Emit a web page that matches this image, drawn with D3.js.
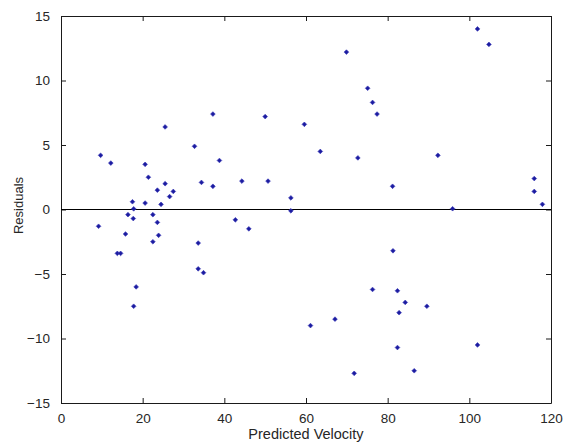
<!DOCTYPE html>
<html>
<head>
<meta charset="utf-8">
<script src="https://cdn.jsdelivr.net/npm/d3@7"></script>
<style>
  body { margin: 0; background: #fff; }
  text { font-family: "Liberation Sans", Arial, sans-serif; fill: #262626; }
</style>
</head>
<body>
<div id="container"></div>
<script>
/** CONSTANTS AND GLOBALS */
const width = 563,
  height = 445,
  margin = { top: 16, bottom: 42, left: 61, right: 12 };

// predicted velocity (x) and residual (y) for each observation
const predicted = [
  9.7, 12.2, 20.6, 21.4, 25.5, 23.6, 27.5, 26.6, 17.5, 20.6, 24.5, 17.8,
  16.4, 17.7, 22.5, 23.6, 9.2, 15.8, 23.9, 22.5, 13.8, 14.6, 18.4, 17.8,
  37.2, 50.0, 59.6, 32.7, 63.5, 38.8, 34.4, 37.2, 44.3, 50.7, 56.3, 56.3,
  42.7, 46.0, 33.6, 33.6, 34.9, 69.9, 75.1, 76.3, 77.4, 72.7, 92.3, 81.2,
  95.9, 102.0, 104.8, 115.9, 115.9, 117.9, 81.3, 76.3, 82.4, 84.3, 89.6,
  82.8, 67.1, 61.1, 82.4, 71.8, 86.5, 102.0, 25.5
];
const residuals = [
  4.2, 3.6, 3.5, 2.5, 2.0, 1.5, 1.4, 1.0, 0.6, 0.5, 0.4, 0.05,
  -0.4, -0.7, -0.4, -1.0, -1.3, -1.9, -2.0, -2.5, -3.4, -3.4, -6.0, -7.5,
  7.4, 7.2, 6.6, 4.9, 4.5, 3.8, 2.1, 1.8, 2.2, 2.2, 0.9, -0.1,
  -0.8, -1.5, -2.6, -4.6, -4.9, 12.2, 9.4, 8.3, 7.4, 4.0, 4.2, 1.8,
  0.06, 14.0, 12.8, 2.4, 1.4, 0.4, -3.2, -6.2, -6.3, -7.2, -7.5,
  -8.0, -8.5, -9.0, -10.7, -12.7, -12.5, -10.5, 6.4
];
const xTicks = [0, 20, 40, 60, 80, 100, 120];
const yTicks = [-15, -10, -5, 0, 5, 10, 15];
const xLabel = "Predicted Velocity";
const yLabel = "Residuals";

let svg;

/** INITIALIZING FUNCTION */
function init() {
  const data = predicted.map((v, i) => ({ x: v, y: residuals[i] }));

  const xScale = d3.scaleLinear()
    .domain([0, 120])
    .range([margin.left, width - margin.right]);

  const yScale = d3.scaleLinear()
    .domain([-15, 15])
    .range([height - margin.bottom, margin.top]);

  svg = d3.select("#container")
    .append("svg")
    .attr("width", width)
    .attr("height", height);

  svg.append("rect")
    .attr("width", width)
    .attr("height", height)
    .attr("fill", "#fff");

  const tickLen = 5;

  // axes, ticks pointing inward on all four sides
  const xBottom = svg.append("g")
    .attr("transform", `translate(0, ${height - margin.bottom})`)
    .call(d3.axisBottom(xScale).tickValues(xTicks).tickSizeInner(-tickLen).tickSizeOuter(0).tickPadding(10));

  const xTop = svg.append("g")
    .attr("transform", `translate(0, ${margin.top})`)
    .call(d3.axisTop(xScale).tickValues(xTicks).tickSizeInner(-tickLen).tickSizeOuter(0).tickFormat(""));

  const yLeft = svg.append("g")
    .attr("transform", `translate(${margin.left}, 0)`)
    .call(d3.axisLeft(yScale).tickValues(yTicks).tickSizeInner(-tickLen).tickSizeOuter(0).tickPadding(11));

  const yRight = svg.append("g")
    .attr("transform", `translate(${width - margin.right}, 0)`)
    .call(d3.axisRight(yScale).tickValues(yTicks).tickSizeInner(-tickLen).tickSizeOuter(0).tickFormat(""));

  [xBottom, xTop, yLeft, yRight].forEach(g => {
    g.selectAll("path, line").attr("stroke", "#1a1a1a");
    g.selectAll("text")
      .style("font-size", "13.5px")
      .style("font-family", "\"Liberation Sans\", Arial, sans-serif")
      .attr("fill", "#262626");
  });

  // zero line
  svg.append("line")
    .attr("x1", xScale(0))
    .attr("x2", xScale(120))
    .attr("y1", yScale(0))
    .attr("y2", yScale(0))
    .attr("stroke", "#000")
    .attr("stroke-width", 1.2);

  // points: small square turned 45 degrees
  const marker = d3.symbol().type(d3.symbolSquare).size(11);
  svg.selectAll(".pt")
    .data(data)
    .join("path")
    .attr("class", "pt")
    .attr("d", marker)
    .attr("transform", d => `translate(${xScale(d.x)}, ${yScale(d.y)}) rotate(45)`)
    .attr("fill", "#1c1ca0")
    .attr("stroke", "#3a3ab8")
    .attr("stroke-width", 0.6);

  // axis labels
  svg.append("text")
    .attr("x", (xScale(0) + xScale(120)) / 2)
    .attr("y", 439)
    .attr("text-anchor", "middle")
    .style("font-size", "14.5px")
    .text(xLabel);

  svg.append("text")
    .attr("transform", `translate(23, ${yScale(0) - 4}) rotate(-90)`)
    .attr("text-anchor", "middle")
    .style("font-size", "13px")
    .text(yLabel);
}

init();
</script>
</body>
</html>
